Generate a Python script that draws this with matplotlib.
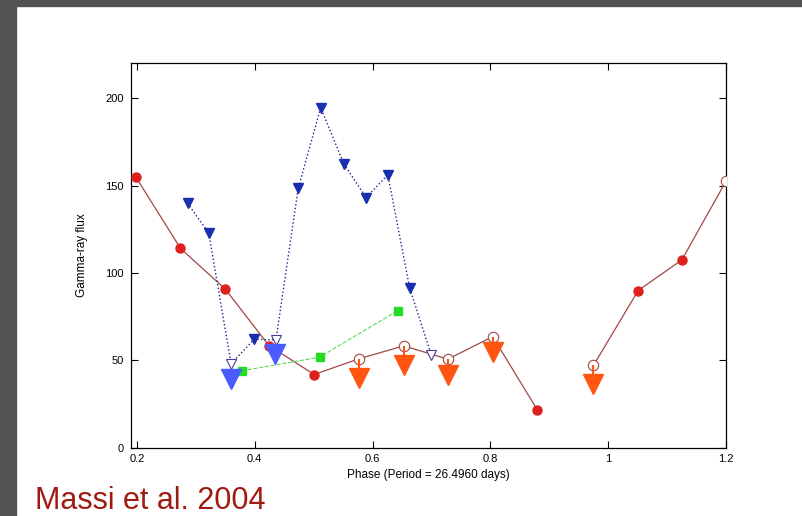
import matplotlib
matplotlib.use("Agg")
import matplotlib.pyplot as plt
from matplotlib.patches import Rectangle

plt.rcParams['font.family'] = ['Liberation Sans', 'DejaVu Sans']

# red curve (radio / X-ray phase curve), filled and open circles
red_phase = [0.198, 0.274, 0.350, 0.424, 0.501, 0.577, 0.653, 0.728, 0.804, 0.880]
red_flux = [155, 114, 90.7, 58.4, 41.8, 50.8, 58.2, 50.6, 63.5, 21.4]
red_open = [False, False, False, False, False, True, True, True, True, False]
red2_phase = [0.975, 1.051, 1.125, 1.200]
red2_flux = [47, 89.9, 107.4, 152.5]
red2_open = [True, False, False, True]

# orange upper limits under the open circles
lim_phase = [0.577, 0.653, 0.728, 0.804, 0.975]
lim_top = [50.8, 58.2, 50.6, 63.5, 47]
lim_flux = [40.0, 47.5, 41.6, 54.6, 36.5]

# blue dotted curve
blue_phase = [0.286, 0.322, 0.360, 0.399, 0.436, 0.474, 0.512, 0.551, 0.589, 0.626, 0.663, 0.700]
blue_flux = [139.9, 122.7, 47.9, 62, 61.6, 148.7, 194.6, 162.6, 143.1, 156.1, 91.4, 52.7]
blue_open = [False, False, True, False, True, False, False, False, False, False, False, True]

# big blue upper limits
blim_phase = [0.360, 0.435]
blim_flux = [39.3, 53.3]

# green squares
green_phase = [0.378, 0.510, 0.643]
green_flux = [43.9, 51.7, 78.4]

fig = plt.figure(figsize=(8.03, 5.16), dpi=100)
fig.patches.append(Rectangle((0, 1 - 6 / 516), 1, 6 / 516, transform=fig.transFigure,
                             color='#525252', zorder=0))
fig.patches.append(Rectangle((0, 0), 16 / 803, 1, transform=fig.transFigure,
                             color='#525252', zorder=0))

ax = fig.add_axes([131 / 803, 1 - 447.5 / 516, 595 / 803, 384.2 / 516])

line_c = '#a04848'
red_c = '#e0201a'
orange_c = '#ff5511'
navy_c = '#1a2fb0'

# red curve
ax.plot(red_phase, red_flux, '-', color=line_c, lw=0.9, zorder=2)
ax.plot(red2_phase, red2_flux, '-', color=line_c, lw=0.9, zorder=2)
for xs, ys, opens in [(red_phase, red_flux, red_open), (red2_phase, red2_flux, red2_open)]:
    for x, y, o in zip(xs, ys, opens):
        if o:
            ax.plot(x, y, 'o', ms=7.5, mfc='white', mec=line_c, mew=0.8, zorder=3)
        else:
            ax.plot(x, y, 'o', ms=6.5, color=red_c, zorder=3)

# orange limits
ax.vlines(lim_phase, lim_flux, lim_top, color=orange_c, lw=1.5, zorder=3)
ax.plot(lim_phase, lim_flux, 'v', ms=14, color=orange_c, ls='none', zorder=4)

# blue dotted curve
ax.plot(blue_phase, blue_flux, ':', color='#1a2590', lw=1.0, zorder=2)
for x, y, o in zip(blue_phase, blue_flux, blue_open):
    if o:
        ax.plot(x, y, 'v', ms=7, mfc='white', mec='#4a3a9a', mew=0.8, zorder=3)
    else:
        ax.plot(x, y, 'v', ms=6.5, color=navy_c, zorder=3)
ax.plot(blim_phase, blim_flux, 'v', ms=15, color='#4a5cff', ls='none', zorder=4)

# green squares
ax.plot(green_phase, green_flux, '--', color='#55dd55', lw=0.8, zorder=2)
ax.plot(green_phase, green_flux, 's', ms=6, color='#22dd22', ls='none', zorder=3)

ax.set_xlim(0.19, 1.2)
ax.set_ylim(0, 220)
ax.set_xticks([0.2, 0.4, 0.6, 0.8, 1.0, 1.2])
ax.set_xticklabels(['0.2', '0.4', '0.6', '0.8', '1', '1.2'])
ax.set_yticks([0, 50, 100, 150, 200])
ax.tick_params(direction='in', length=5, width=0.8, labelsize=8,
               top=True, right=True, pad=5)
for s in ax.spines.values():
    s.set_linewidth(0.9)
ax.set_xlabel('Phase (Period = 26.4960 days)', fontsize=8.5, labelpad=3)
ax.set_ylabel('Gamma-ray flux', fontsize=8.5, labelpad=13)

fig.text(35 / 803, 1 - 509 / 516, 'Massi et al. 2004', fontsize=22,
         color='#a01a10', ha='left', va='baseline')

fig.savefig('out.png', dpi=100)
